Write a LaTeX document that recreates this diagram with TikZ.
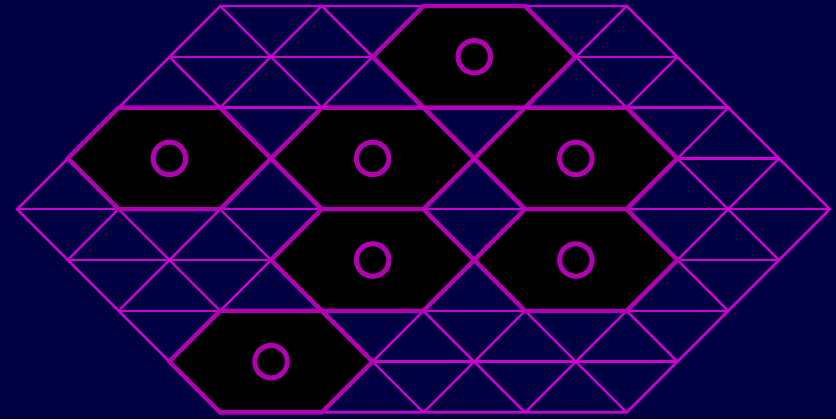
\documentclass[tikz,border=0pt]{standalone}
\usepackage{xcolor}
\usepackage{tikz}

\definecolor{navybg}{RGB}{0,0,66}
\definecolor{gridmag}{RGB}{208,0,208}
\definecolor{hexmag}{RGB}{178,0,178}

\tikzset{
  gridline/.style={gridmag, line width=1.3pt},
  hexcell/.style={hexmag, line width=2.5pt, fill=black, line join=miter},
  hexmark/.style={hexmag, line width=2.8pt}
}

\begin{document}
\begin{tikzpicture}
% Background
\fill[navybg] (-0.335,-4.13) rectangle (16.12,4.118);
\useasboundingbox (-0.335,-4.13) rectangle (16.12,4.118);

% Triangular grid inside the big hexagon
\begin{scope}
\clip (0,0) -- (4,4) -- (12,4) -- (16,0) -- (12,-4) -- (4,-4) -- cycle;
\foreach \y in {-4,...,4}
  \draw[gridline] (0,\y) -- (16,\y);
\foreach \k in {0,2,...,16} {
  \draw[gridline] (\k-4,-4) -- (\k+4,4);
  \draw[gridline] (\k+4,-4) -- (\k-4,4);
}
\end{scope}

% Outline of the big hexagon
\draw[gridline] (0,0) -- (4,4) -- (12,4) -- (16,0) -- (12,-4) -- (4,-4) -- cycle;

% Black cells with a ring in the middle
\foreach \cx/\cy in {9/3, 3/1, 7/1, 11/1, 7/-1, 11/-1, 5/-3} {
  \draw[hexcell] (\cx-2,\cy) -- (\cx-1,\cy+1) -- (\cx+1,\cy+1)
    -- (\cx+2,\cy) -- (\cx+1,\cy-1) -- (\cx-1,\cy-1) -- cycle;
  \draw[hexmark] (\cx,\cy) circle (0.32);
}
\end{tikzpicture}
\end{document}
